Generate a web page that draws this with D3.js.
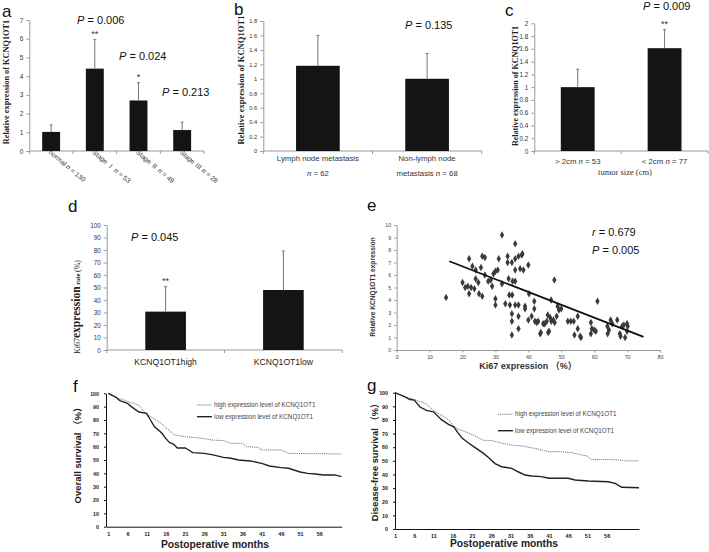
<!DOCTYPE html>
<html><head><meta charset="utf-8">
<script src="https://cdn.jsdelivr.net/npm/d3@7"></script>
<style>body{margin:0;background:#fff}svg{display:block}</style>
</head><body><svg id="c" width="709" height="552"></svg>
<script>
// ---------- DATA ----------
// panel a
const aCategories = ["normal", "Stage Ⅰ", "Stage Ⅱ", "Stage Ⅲ"];
const aN = [130, 53, 49, 28];
const aMeans = [1.02, 4.4, 2.7, 1.12];
const aErrors = [0.37, 1.55, 0.95, 0.42];
const aTicks = [0, 1, 2, 3, 4, 5, 6, 7];
const aPValues = ["0.006", "0.024", "0.213"];
const aStars = ["", "**", "*", ""];
// panel b
const bCategories = [["Lymph node metastasis", "62"], ["Non-lymph node", "metastasis", "68"]];
const bMeans = [1.18, 1.0];
const bErrors = [0.42, 0.35];
const bTicks = [0, 0.2, 0.4, 0.6, 0.8, 1, 1.2, 1.4, 1.6, 1.8];
const bPValue = "0.135";
// panel c
const cCategories = [["> 2cm ", "53"], ["< 2cm ", "77"]];
const cMeans = [1.0, 1.61];
const cErrors = [0.28, 0.29];
const cTicks = [0, 0.2, 0.4, 0.6, 0.8, 1, 1.2, 1.4, 1.6, 1.8, 2];
const cPValue = "0.009";
// panel d
const dCategories = ["KCNQ1OT1high", "KCNQ1OT1low"];
const dMeans = [30.7, 48];
const dErrors = [20, 31.2];
const dTicks = [0, 10, 20, 30, 40, 50, 60, 70, 80, 90, 100];
const dPValue = "0.045";
// panel e (scatter)
const eX = [15,20,20.8,22,21.6,22,22.6,23,23.6,24,24,24.8,25,26,25.6,26,26.8,26.8,27.8,28.6,29,29.4,30,30,30,31,30.7,32,32,33,33.7,33.7,34,34.2,34.4,35,35,35,35,35.1,35.2,36,36,36,36,36,37,37,37,37,37.5,38,38.2,38.5,39,39,40,40.2,40,41,41.8,41.8,42,42.5,43,43.6,43.8,44.5,45,45.6,45.9,46,46.3,46.6,46.9,47,47.6,47.9,48,48.6,48.9,49.3,50,52,52.9,53.8,54,55,55,55.7,56,59,59,59.3,60,60.5,61,64,64.1,64.5,65,65.5,67,67.8,68,68.5,69,69.4,70,70,70.2];
const eY = [4.2,5.4,5.0,7.3,5.1,4.5,5.0,6.7,4.9,6.4,5.7,5.4,4.5,7.5,6.6,4.3,7.4,6.0,5.5,5.6,5.1,6.1,6.3,4.1,3.6,7.3,6.4,5.3,9.2,3.7,7.5,7.0,5.7,4.4,3.6,7.0,2.9,2.3,1.2,4.4,5.5,5.5,8.5,6.4,7.3,3.6,7.5,3.6,2.7,1.7,6.5,7.6,7.7,6.4,3.5,3.3,6.8,4.5,2.4,2.7,3.9,3.3,2.3,2.2,2.3,1.3,1.4,2.1,2.1,2.3,2.8,1.4,1.5,2.6,4.0,2.3,2.4,5.6,2.2,2.7,3.5,3.2,3.3,2.3,2.3,2.3,1.2,2.7,1.7,1.1,1.0,2.2,1.3,1.7,1.6,1.5,3.9,1.9,1.3,1.6,2.4,2.1,2.4,1.3,1.1,1.9,2.0,1.0,2.1,1.5,1.9];
const eLineX = [16, 75];
const eLineY = [7.1, 1.05];
const eXTicks = [0, 10, 20, 30, 40, 50, 60, 70, 80];
const eYTicks = [0, 1, 2, 3, 4, 5, 6, 7, 8, 9, 10];
const eR = "0.679", eP = "0.005";
// panel f (overall survival)
const fHighMonths = [1,3,5,6,8,9,11,13,15,16,17,18,20,21,23,26,28,31,33,36,37,40,41,46,48,61.8];
const fHighSurv = [100,97,95,94,92,91,84,81,77,74,72,69,68,67.5,67,66,65,64.5,62.5,62.5,60,59.5,57.5,57.5,55,54.5];
const fLowMonths = [1,3,4,6,7,9,11,12,13,15,16,17,18,19,21,22,23,26,28,31,33,35,38,41,43,46,48,51,53,55,57,60,61.8];
const fLowSurv = [100,97,94.5,92.5,90,86,85,80,75,70,66,63,62,59,59,57.5,55.5,55,54,52,51.3,50,49.3,47.5,45.5,44.3,43.8,41,40,39.5,38.8,38.8,37.5];
// panel g (disease-free survival)
const gHighMonths = [1,3.6,6,8,9,11,12.7,14,15.3,16,17.5,18.7,20.5,22,24,26,28.7,31.3,33.9,36.5,39,41,44,47,49.5,51,52,56.4,59,60.7,64.4];
const gHighSurv = [100,97,95,93,92,87,84,82,79,76,73,72,70,68,65,65,63,61.5,61,59.6,58,56.7,56.7,56,54.3,53.5,51,51,50.6,50,50];
const gLowMonths = [1,3.6,4.9,6,7.5,9.2,11,13,14.9,16.3,17.5,18.5,20,22.2,24,25.2,27,28.7,31.3,33,34.8,36.5,39,41,46,47.8,51.2,56.4,58.2,59.9,64.4];
const gLowSurv = [100,97,95,94.6,89.5,87,86,80.4,76.8,75,70,66.5,63.3,59,55.5,52.6,48,45.7,44.5,42,39.6,38.9,38.4,37.2,37.2,36,35.2,34.7,33.5,30.6,30.3];
const kmTicks = [1, 6, 11, 16, 21, 26, 31, 36, 41, 46, 51, 56];
const kmYTicks = [0, 10, 20, 30, 40, 50, 60, 70, 80, 90, 100];
const legendLabels = ["high expression level of KCNQ1OT1", "low expression level of KCNQ1OT1"];

// ---------- DRAW ----------
const svg = d3.select("#c");
const SANS = "'Liberation Sans', Arial, 'Noto Sans CJK SC', sans-serif";
const SERIF = "'Liberation Serif', 'Times New Roman', serif";

function letter(t, x, y) {
  svg.append("text").attr("x", x).attr("y", y).text(t)
    .attr("font-family", SANS).attr("font-size", 17).attr("fill", "#111");
}
function pText(x, y, val, prefix = "P", size = 11) {
  const t = svg.append("text").attr("x", x).attr("y", y)
    .attr("font-family", SANS).attr("font-size", size).attr("fill", "#111");
  t.append("tspan").attr("font-style", "italic").text(prefix);
  t.append("tspan").text(" = " + val);
}
function styleAxis(ax, size, color = "#999", textColor = "#333", bold = false) {
  ax.select(".domain").attr("stroke", color);
  ax.selectAll(".tick line").attr("stroke", color);
  ax.selectAll(".tick text").attr("font-family", SANS).attr("font-size", size)
    .attr("fill", textColor).attr("font-weight", bold ? "bold" : "normal");
}

function barPanel(o) {
  const g = svg.append("g");
  const y = d3.scaleLinear().domain([0, o.max]).range([o.bottom, o.top]);
  const x = d3.scaleBand().domain(d3.range(o.means.length)).range([o.left, o.right]);
  const ya = g.append("g").attr("transform", `translate(${o.left},0)`)
    .call(d3.axisLeft(y).tickValues(o.ticks).tickSize(3).tickSizeOuter(0).tickPadding(3).tickFormat(o.fmt));
  styleAxis(ya, o.tickFont);
  g.append("line").attr("x1", o.left).attr("x2", o.right).attr("y1", o.bottom).attr("y2", o.bottom).attr("stroke", "#999");
  g.selectAll(".xt").data(d3.range(o.means.length + 1)).join("line")
    .attr("x1", i => o.left + i * x.step()).attr("x2", i => o.left + i * x.step())
    .attr("y1", o.bottom).attr("y2", o.bottom + 3).attr("stroke", "#999");
  const bw = x.bandwidth() * o.frac;
  g.selectAll(".bar").data(o.means).join("rect")
    .attr("x", (d, i) => x(i) + x.bandwidth() / 2 - bw / 2).attr("width", bw)
    .attr("y", d => y(d)).attr("height", d => y(0) - y(d)).attr("fill", "#141414");
  g.selectAll(".err").data(o.means).join("line")
    .attr("x1", (d, i) => x(i) + x.bandwidth() / 2).attr("x2", (d, i) => x(i) + x.bandwidth() / 2)
    .attr("y1", d => y(d)).attr("y2", (d, i) => y(d + o.errs[i])).attr("stroke", "#777").attr("stroke-width", 1);
  g.selectAll(".cap").data(o.means).join("line")
    .attr("x1", (d, i) => x(i) + x.bandwidth() / 2 - 1.5).attr("x2", (d, i) => x(i) + x.bandwidth() / 2 + 1.5)
    .attr("y1", (d, i) => y(d + o.errs[i])).attr("y2", (d, i) => y(d + o.errs[i])).attr("stroke", "#777");
  // y label
  if (o.ylabel) {
    g.append("text").attr("transform", `translate(${o.ylabelX},${o.ylabelY}) rotate(-90)`)
      .attr("text-anchor", "middle").attr("font-family", SERIF).attr("font-weight", "bold")
      .attr("font-size", o.ylabelSize).attr("fill", "#222").text(o.ylabel);
  }
  if (o.stars) {
    g.selectAll(".star").data(o.stars).join("text")
      .attr("x", (d, i) => x(i) + x.bandwidth() / 2).attr("y", (d, i) => y(o.means[i] + o.errs[i]) - 3)
      .attr("text-anchor", "middle").attr("font-family", SANS).attr("font-size", 9).attr("fill", "#333").text(d => d);
  }
  return { x, y, g };
}

// ----- panel a -----
letter("a", 2, 17);
const A = barPanel({ left: 29.3, right: 204, top: 20, bottom: 151, max: 7, ticks: aTicks, fmt: d3.format("d"),
  tickFont: 6.5, means: aMeans, errs: aErrors, frac: 0.41, stars: aStars,
  ylabel: "Relative expression of KCNQ1OT1", ylabelX: 9, ylabelY: 82, ylabelSize: 8.3 });
aCategories.forEach((c, i) => {
  const cx = A.x(i) + A.x.bandwidth() / 2 - 3;
  const t = svg.append("text").attr("transform", `translate(${cx},153) rotate(40)`)
    .attr("font-family", SANS).attr("font-size", 6.8).attr("fill", "#333");
  t.append("tspan").text(c + " ");
  t.append("tspan").attr("font-style", "italic").text("n");
  t.append("tspan").text(" = " + aN[i]);
});
pText(77, 24, aPValues[0]);
pText(119, 60, aPValues[1]);
pText(162, 96, aPValues[2]);

// ----- panel b -----
letter("b", 234, 15);
const B = barPanel({ left: 263.3, right: 481.7, top: 21, bottom: 151, max: 1.8, ticks: bTicks, fmt: d => d3.format("")(+d.toFixed(1)),
  tickFont: 5.8, means: bMeans, errs: bErrors, frac: 0.4,
  ylabel: "Relative expression of KCNQ1OT1", ylabelX: 243.5, ylabelY: 80, ylabelSize: 8.6 });
{
  const cx0 = B.x(0) + B.x.bandwidth() / 2, cx1 = B.x(1) + B.x.bandwidth() / 2;
  const st = (sel) => sel.attr("font-family", SANS).attr("font-size", 7.8).attr("fill", "#333").attr("text-anchor", "middle");
  st(svg.append("text").attr("x", cx0).attr("y", 161)).text(bCategories[0][0]);
  let t = st(svg.append("text").attr("x", cx0).attr("y", 176));
  t.append("tspan").attr("font-style", "italic").text("n"); t.append("tspan").text(" = " + bCategories[0][1]);
  st(svg.append("text").attr("x", cx1).attr("y", 161)).text(bCategories[1][0]);
  t = st(svg.append("text").attr("x", cx1).attr("y", 176));
  t.append("tspan").text(bCategories[1][1] + " ");
  t.append("tspan").attr("font-style", "italic").text("n"); t.append("tspan").text(" = " + bCategories[1][2]);
}
pText(405, 29, bPValue);

// ----- panel c -----
letter("c", 505, 16);
const C = barPanel({ left: 534.3, right: 708, top: 23.3, bottom: 151, max: 2, ticks: cTicks, fmt: d => d3.format("")(+d.toFixed(1)),
  tickFont: 6.3, means: cMeans, errs: cErrors, frac: 0.39, stars: ["", "**"],
  ylabel: "Relative expression of KCNQ1OT1", ylabelX: 518, ylabelY: 86, ylabelSize: 8 });
cCategories.forEach((c, i) => {
  const cx = C.x(i) + C.x.bandwidth() / 2;
  const t = svg.append("text").attr("x", cx).attr("y", 164).attr("text-anchor", "middle")
    .attr("font-family", SANS).attr("font-size", 7.8).attr("fill", "#333");
  t.append("tspan").text(c[0]);
  t.append("tspan").attr("font-style", "italic").text("n");
  t.append("tspan").text(" = " + c[1]);
});
svg.append("text").attr("x", 625).attr("y", 175).attr("text-anchor", "middle")
  .attr("font-family", SERIF).attr("font-size", 8.5).attr("fill", "#333").text("tumor size (cm)");
pText(643, 10, cPValue);

// ----- panel d -----
letter("d", 68, 212);
const D = barPanel({ left: 106.7, right: 342.3, top: 225, bottom: 350, max: 100, ticks: dTicks, fmt: d3.format("d"),
  tickFont: 6.3, means: dMeans, errs: dErrors, frac: 0.345, stars: ["**", ""] });
dCategories.forEach((c, i) => {
  svg.append("text").attr("x", D.x(i) + D.x.bandwidth() / 2).attr("y", 365).attr("text-anchor", "middle")
    .attr("font-family", SANS).attr("font-size", 8.6).attr("fill", "#222").text(c);
});
{
  const t = svg.append("text").attr("transform", "translate(80,354) rotate(-90)")
    .attr("font-family", SERIF).attr("fill", "#222").attr("font-weight", "bold");
  t.append("tspan").attr("font-size", 8).attr("font-weight", "normal").text("Ki67");
  t.append("tspan").attr("font-size", 11.5).text("expression");
  t.append("tspan").attr("font-size", 6.5).text(" rate ");
  t.append("tspan").attr("font-size", 8).attr("font-weight", "normal").text("(%)");
}
pText(131, 241, dPValue);

// ----- panel e -----
letter("e", 367, 211);
{
  const x = d3.scaleLinear().domain([0, 80]).range([396.7, 660]);
  const y = d3.scaleLinear().domain([0, 10]).range([350, 225]);
  const xa = svg.append("g").attr("transform", "translate(0,350)")
    .call(d3.axisBottom(x).tickValues(eXTicks).tickSize(2.5).tickSizeOuter(0).tickPadding(3));
  styleAxis(xa, 5.3, "#999", "#444");
  const ya = svg.append("g").attr("transform", "translate(396.7,0)")
    .call(d3.axisLeft(y).tickValues(eYTicks).tickSize(2.5).tickSizeOuter(0).tickPadding(3));
  styleAxis(ya, 5.3, "#999", "#444");
  svg.append("g").selectAll("path").data(eX).join("path")
    .attr("transform", (d, i) => `translate(${x(d)},${y(eY[i])})`)
    .attr("d", d3.symbol(d3.symbolDiamond, 16)).attr("fill", "#3a3a3a");
  svg.append("line").attr("x1", x(eLineX[0])).attr("y1", y(eLineY[0])).attr("x2", x(eLineX[1])).attr("y2", y(eLineY[1]))
    .attr("stroke", "#111").attr("stroke-width", 1.8);
  svg.append("text").attr("transform", "translate(375,287) rotate(-90)").attr("text-anchor", "middle")
    .attr("font-family", SANS).attr("font-weight", "bold").attr("font-size", 6.6).attr("fill", "#333")
    .text("Relative KCNQ1OT1 expression");
  svg.append("text").attr("x", 528).attr("y", 369).attr("text-anchor", "middle")
    .attr("font-family", SANS).attr("font-weight", "bold").attr("font-size", 9).attr("fill", "#333")
    .text("Ki67 expression （%）");
  pText(592, 236, eR, "r");
  pText(592, 254, eP);
}

// ----- KM panels -----
function kmPanel(o) {
  const x = d3.scaleLinear().domain(o.xdom).range([o.left, o.right]);
  const y = d3.scaleLinear().domain([0, 100]).range([o.bottom, o.top]);
  const xa = svg.append("g").attr("transform", `translate(0,${o.bottom})`)
    .call(d3.axisBottom(x).tickValues(kmTicks).tickSize(0).tickSizeOuter(0).tickPadding(5));
  styleAxis(xa, 5.5, "#111", "#222", true);
  const ya = svg.append("g").attr("transform", `translate(${o.left},0)`)
    .call(d3.axisLeft(y).tickValues(kmYTicks).tickSize(2).tickSizeOuter(0).tickPadding(5));
  styleAxis(ya, 5.3, "#111", "#222", true);
  const line = d3.line().x(d => x(d[0])).y(d => y(d[1]));
  svg.append("path").datum(o.hm.map((m, i) => [m, o.hs[i]])).attr("d", line)
    .attr("fill", "none").attr("stroke", "#777").attr("stroke-width", 1).attr("stroke-dasharray", "1.2,0.9");
  svg.append("path").datum(o.lm.map((m, i) => [m, o.ls[i]])).attr("d", line)
    .attr("fill", "none").attr("stroke", "#222").attr("stroke-width", 1.4);
  // legend
  o.legY.forEach((ly, i) => {
    svg.append("line").attr("x1", o.legX).attr("x2", o.legX + 15).attr("y1", ly).attr("y2", ly)
      .attr("stroke", i === 0 ? "#777" : "#222").attr("stroke-width", i === 0 ? 1 : 1.4)
      .attr("stroke-dasharray", i === 0 ? "1.2,0.9" : null);
    svg.append("text").attr("x", o.legX + 17).attr("y", ly + 2).attr("font-family", SANS)
      .attr("font-size", 6.3).attr("fill", "#444").text(legendLabels[i]);
  });
  svg.append("text").attr("transform", `translate(${o.ylabX},${o.ylabY}) rotate(-90)`).attr("text-anchor", "middle")
    .attr("font-family", SANS).attr("font-weight", "bold").attr("font-size", o.ylabSize).attr("fill", "#222").text(o.ylab);
  svg.append("text").attr("x", o.xlabX).attr("y", o.xlabY).attr("text-anchor", "middle")
    .attr("font-family", SANS).attr("font-weight", "bold").attr("font-size", 10.3).attr("fill", "#222").text("Postoperative months");
}
letter("f", 73, 392);
kmPanel({ left: 106, right: 341.7, top: 393.3, bottom: 526.7, xdom: [0.4, 61.85],
  hm: fHighMonths, hs: fHighSurv, lm: fLowMonths, ls: fLowSurv, legX: 197, legY: [405, 416.7],
  ylab: "Overall survival （%）", ylabX: 81, ylabY: 453, ylabSize: 9.5, xlabX: 215, xlabY: 548 });
letter("g", 367, 391);
kmPanel({ left: 395, right: 639, top: 392.7, bottom: 529, xdom: [1, 64.4],
  hm: gHighMonths, hs: gHighSurv, lm: gLowMonths, ls: gLowSurv, legX: 498, legY: [414.3, 430.7],
  ylab: "Disease-free survival （%）", ylabX: 378, ylabY: 460, ylabSize: 9.3, xlabX: 504, xlabY: 547 });
</script></body></html>
